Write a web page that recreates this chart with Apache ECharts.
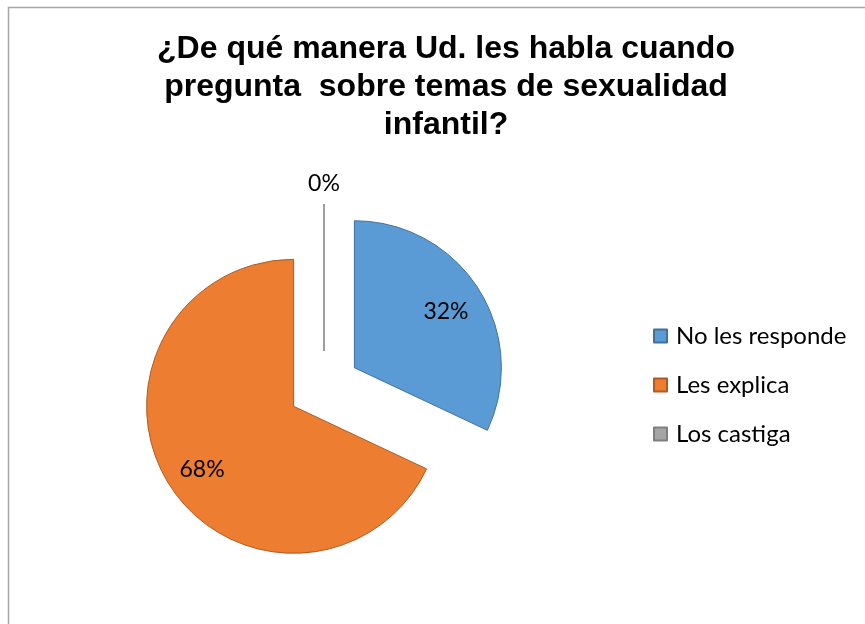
<!DOCTYPE html>
<html>
<head>
<meta charset="utf-8">
<script src="https://cdn.jsdelivr.net/npm/echarts@6/dist/echarts.min.js"></script>
<style>
  html, body { margin: 0; padding: 0; background: #fff; }
  #chart { width: 865px; height: 624px; }
</style>
</head>
<body>
<div id="chart"></div>
<script>
const categories = ['No les responde', 'Les explica', 'Los castiga'];
const values = [32, 68, 0];
const colors = ['#5b9bd5', '#ed7d31', '#a5a5a5'];
const borders = ['#41719c', '#ae5a21', '#7f7f7f'];
// push inside labels outwards (Excel puts them further from the centre)
const labelShift = [[27, -15], [-27, 22], [0, -91]];

const myChart = echarts.init(document.getElementById('chart'));

const option = {
  animation: false,
  title: {
    text: '¿De qué manera Ud. les habla cuando\npregunta  sobre temas de sexualidad\ninfantil?',
    left: 441,
    textAlign: 'center',
    top: 25,
    textStyle: {
      fontFamily: 'Liberation Sans',
      fontWeight: 'bold',
      fontSize: 32,
      lineHeight: 38,
      color: '#000'
    }
  },
  graphic: [{
    type: 'rect',
    shape: { x: 8.5, y: 7.5, width: 900, height: 700 },
    style: { fill: 'none', stroke: '#a6a6a6', lineWidth: 1.5 },
    silent: true
  }],
  legend: {
    orient: 'vertical',
    left: 648,
    top: 319,
    itemWidth: 13,
    itemHeight: 13,
    itemGap: 25,
    icon: 'rect',
    textStyle: { fontFamily: 'Lato', fontSize: 24, color: '#000', padding: [0, 0, 0, 4] },
    data: categories
  },
  series: [{
    type: 'pie',
    center: [324, 387],
    radius: 147,
    startAngle: 90,
    clockwise: true,
    selectedMode: 'multiple',
    selectedOffset: 36,
    avoidLabelOverlap: false,
    data: categories.map((name, i) => ({
      name: name,
      value: values[i],
      selected: true,
      itemStyle: { color: colors[i], borderColor: borders[i], borderWidth: 1 }
    })),
    label: {
      position: 'inside',
      formatter: '{d}%',
      fontFamily: 'Lato',
      fontSize: 23,
      color: '#000'
    },
    labelLine: { show: false },
    labelLayout: function (params) {
      const s = labelShift[params.dataIndex];
      return { dx: s[0], dy: s[1] };
    },
    emphasis: { disabled: true }
  }]
};
myChart.setOption(option);
</script>
</body>
</html>
